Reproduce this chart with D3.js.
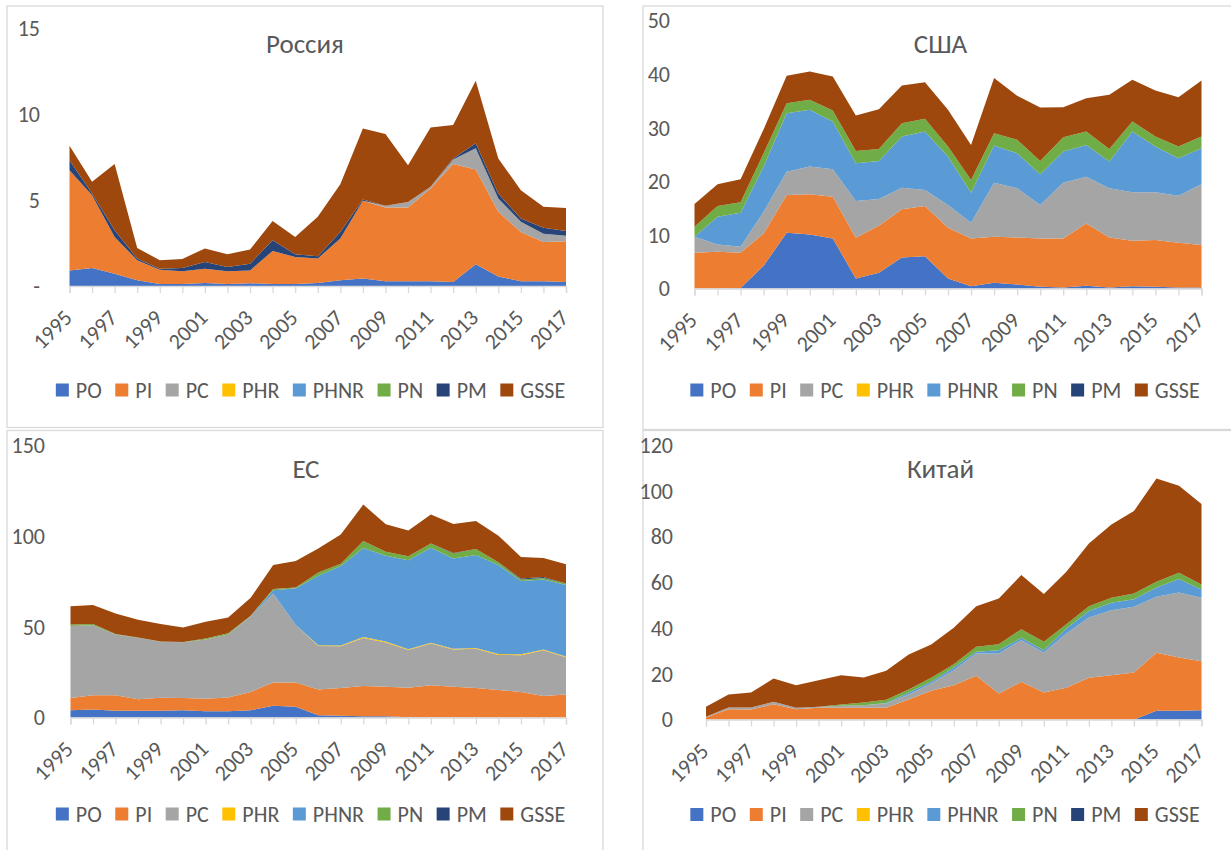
<!DOCTYPE html>
<html><head><meta charset="utf-8">
<script src="https://cdn.jsdelivr.net/npm/d3@7"></script>
<style>
html,body{margin:0;padding:0;background:#fff;}
svg{display:block;}
text{font-family:Calibri,Carlito,Lato,sans-serif;fill:#595959;}
</style></head><body>
<svg id="c" width="1231" height="850"></svg>
<script>
const years = d3.range(1995, 2018);
const yearLabels = ["1995","1997","1999","2001","2003","2005","2007","2009","2011","2013","2015","2017"];
const seriesNames = ["PO","PI","PC","PHR","PHNR","PN","PM","GSSE"];
const seriesColors = ["#4472C4","#ED7D31","#A5A5A5","#FFC000","#5B9BD5","#70AD47","#264478","#9E480E"];
const Z = new Array(23).fill(0);

// Россия
const ruPO   = [0.91,1.05,0.72,0.33,0.12,0.12,0.17,0.12,0.16,0.12,0.12,0.17,0.33,0.43,0.27,0.27,0.27,0.23,1.26,0.56,0.27,0.27,0.23];
const ruPI   = [5.84,4.24,2.14,1.17,0.83,0.74,0.84,0.74,0.75,1.92,1.57,1.43,2.43,4.53,4.30,4.30,5.41,6.87,5.53,3.76,2.88,2.30,2.38];
const ruPC   = [0,0,0,0,0,0,0,0,0,0,0,0,0,0,0.10,0.33,0.10,0.27,1.23,0.78,0.59,0.48,0.31];
const ruPHR  = Z;
const ruPHNR = Z;
const ruPN   = Z;
const ruPM   = [0.58,0.10,0.39,0.10,0.06,0.19,0.39,0.25,0.39,0.63,0.16,0.13,0.39,0.08,0,0,0,0.06,0.29,0.29,0.19,0.34,0.29];
const ruGSSE = [0.84,0.68,3.85,0.62,0.49,0.53,0.78,0.74,0.82,1.12,1.01,2.30,2.78,4.14,4.18,2.14,3.46,1.95,3.65,2.04,1.65,1.22,1.34];

// США
const usPO   = [0,0,0.1,4.24,10.4,10.09,9.35,1.87,2.93,5.79,6.04,1.87,0.44,1.06,0.75,0.31,0.19,0.5,0.19,0.44,0.31,0.19,0.19];
const usPI   = [6.67,6.85,6.57,6.04,7.05,7.48,7.78,7.6,8.78,8.98,9.35,9.47,8.91,8.6,8.78,9.04,9.16,11.65,9.34,8.47,8.72,8.35,7.91];
const usPC   = [2.99,1.37,1.12,4.05,4.35,5.17,5.11,6.85,4.99,4.05,2.99,4.24,2.92,10.09,9.16,6.23,10.4,8.72,9.16,9.03,8.91,8.78,11.34];
const usPHR  = Z;
const usPHNR = [0,5.18,6.35,8.41,10.9,10.59,8.91,7.04,7.1,9.53,10.9,9.03,5.61,6.92,6.54,5.73,5.8,5.92,4.99,11.34,8.54,6.98,6.73];
const usPN   = [1.87,1.99,1.93,2.49,1.88,1.87,2.06,2.31,2.24,2.49,2.37,1.87,2.37,2.3,2.5,2.49,2.67,2.49,2.36,1.87,1.87,2.18,2.18];
const usPM   = Z;
const usGSSE = [4.24,4.05,4.3,4.5,5.11,5.3,6.35,6.6,7.42,7.04,6.85,6.85,6.54,10.28,8.22,9.97,5.61,6.23,10.1,7.79,8.6,9.22,10.47];

// ЕС
const euPO   = [4.0,4.4,3.7,3.7,3.7,4.0,3.5,3.5,4.0,6.4,5.9,1.3,0.9,0.7,0.7,0.2,0.2,0.1,0,0,0,0,0];
const euPI   = [6.8,7.9,8.6,6.4,7.2,6.8,6.8,7.5,10.1,12.9,13.4,14.1,15.4,16.7,16.2,16.2,17.6,16.8,16.3,15.1,14.1,11.9,12.7];
const euPC   = [39.5,38.5,33.4,33.8,30.8,30.6,32.7,34.7,41.3,49.0,31.6,23.9,22.9,26.4,24.4,20.7,22.9,20.5,21.5,19.3,20.2,25.1,20.4];
const euPHR  = [0,0,0,0,0,0,0,0,0,0,0,0.5,0.5,0.5,0.5,0.5,0.5,0.5,0.5,0.5,0.5,0.5,0.5];
const euPHNR = [0,0,0,0,0,0,0,0,0.3,1.8,20.2,38.2,43.7,49.0,47.2,49.0,52.2,49.6,51.1,49.0,40.4,38.4,39.3];
const euPN   = [0.9,0.6,0.2,0.2,0.2,0.2,0.5,0.7,0.3,0.6,0.4,1.8,1.3,3.9,2.2,2.2,2.4,2.8,3.3,1.5,0.7,0.9,0.9];
const euPM   = [0,0,0,0,0,0,0,0,0,0,0,0,0,0,0,0,0,0.2,0,0,0.55,0.55,0];
const euGSSE = [10.1,10.5,11.4,9.7,9.5,7.9,9.2,8.6,9.9,13.2,14.7,13.2,16.0,20.0,15.2,14.1,16.0,16.0,15.4,14.7,11.9,10.5,10.6];

// Китай
const cnPO   = [0,0,0,0,0,0,0,0,0,0,0,0,0,0,0,0,0,0,0,0,3.79,3.79,4.08];
const cnPI   = [0.87,4.52,4.37,6.71,4.52,5.1,5.1,5.1,5.1,8.75,12.54,15.01,19.1,11.37,16.47,11.8,13.85,18.22,19.39,20.55,25.36,23.32,21.43];
const cnPC   = [0.3,0.73,0.88,1.02,0.58,0.44,0.88,1.17,1.9,2.18,3.2,6.56,9.76,17.49,18.22,17.5,23.76,26.39,28.42,28.72,24.49,28.43,27.7];
const cnPHR  = Z;
const cnPHNR = [0,0,0,0,0,0,0,0,0.2,0.87,0.73,1.17,0.73,1.46,1.02,1.02,2.19,2.77,3.21,3.35,4.09,5.83,3.64];
const cnPN   = [0,0,0,0,0,0,0.58,1.16,1.45,1.32,1.75,1.46,2.19,2.62,3.79,3.65,1.89,2.18,2.19,2.48,2.47,2.77,2.19];
const cnPM   = Z;
const cnGSSE = [4.37,5.68,6.55,10.2,9.91,11.66,12.83,10.94,12.69,15.31,14.58,15.89,17.78,19.98,23.62,20.84,22.89,27.41,32.07,36.01,45.19,38.05,35.13];

const titles = ["Россия","США","ЕС","Китай"];
const ruTicks = [0,5,10,15];
const usTicks = [0,10,20,30,40,50];
const euTicks = [0,50,100,150];
const cnTicks = [0,20,40,60,80,100,120];

const panelData = [
  [ruPO,ruPI,ruPC,ruPHR,ruPHNR,ruPN,ruPM,ruGSSE],
  [usPO,usPI,usPC,usPHR,usPHNR,usPN,usPM,usGSSE],
  [euPO,euPI,euPC,euPHR,euPHNR,euPN,euPM,euGSSE],
  [cnPO,cnPI,cnPC,cnPHR,cnPHNR,cnPN,cnPM,cnGSSE]
];
const panelTicks = [ruTicks, usTicks, euTicks, cnTicks];

// layout
const layout = [
  {box:[7,6,603,427.5], x0:69.5, x1:566, y0:286, yTop:28.5, ylab:40, tx:305, ty:53, lc:310.5, ly:390, zero:"-"},
  {box:[643,6,1245,429.5], x0:694.5, x1:1201.5, y0:288.5, yTop:20.5, ylab:670, tx:940.5, ty:53, lc:945, ly:390, zero:"0"},
  {box:[7,430.5,603,900], x0:70.5, x1:566, y0:717.5, yTop:445, ylab:45, tx:306, ty:478, lc:310.5, ly:814, zero:"0"},
  {box:[643,430.5,1245,900], x0:706, x1:1201.5, y0:719.5, yTop:445, ylab:673, tx:940.5, ty:478, lc:945, ly:814.5, zero:"0"}
];

const FS = 22;
const svg = d3.select("#c");

panelData.forEach((arrs, pi) => {
  const L = layout[pi];
  const ticks = panelTicks[pi];
  const g = svg.append("g");
  const [bx0,by0,bx1,by1] = L.box;
  g.append("rect").attr("x",bx0).attr("y",by0).attr("width",bx1-bx0).attr("height",by1-by0)
    .attr("fill","#fff").attr("stroke","#d9d9d9").attr("stroke-width",1.3);

  const x = d3.scaleLinear().domain([1995,2017]).range([L.x0,L.x1]);
  const y = d3.scaleLinear().domain([0, d3.max(ticks)]).range([L.y0,L.yTop]);

  const rows = years.map((yr,i) => {
    const o = {year: yr};
    seriesNames.forEach((s,k) => o[s] = arrs[k][i]);
    return o;
  });
  const stacked = d3.stack().keys(seriesNames)(rows);
  const area = d3.area().x(d => x(d.data.year)).y0(d => y(d[0])).y1(d => y(d[1]));
  g.selectAll("path.a").data(stacked).join("path").attr("class","a")
    .attr("d", area).attr("fill",(d,i)=>seriesColors[i]);

  // y labels
  g.selectAll("text.yl").data(ticks).join("text").attr("class","yl")
    .attr("x", L.ylab).attr("y", d => y(d)).attr("dy","0.36em")
    .attr("text-anchor","end").style("font-size",FS+"px")
    .text(d => d===0 ? L.zero : d);

  // x axis
  const xAxis = d3.axisBottom(x).tickValues(years).tickSize(7).tickFormat("");
  const ax = g.append("g").attr("transform",`translate(0,${L.y0})`).call(xAxis);
  ax.select(".domain").attr("stroke","#d9d9d9").attr("stroke-width",1.3);
  ax.selectAll(".tick line").attr("stroke","#d9d9d9").attr("stroke-width",1.3);

  g.selectAll("text.xl").data(yearLabels).join("text").attr("class","xl")
    .attr("transform", d => `translate(${x(+d)+4},${L.y0+33}) rotate(-45)`)
    .attr("text-anchor","end").style("font-size",FS+"px").text(d => d);

  // title
  g.append("text").attr("x",L.tx).attr("y",L.ty).attr("text-anchor","middle")
    .style("font-size","27px").text(titles[pi]);

  // legend
  const lg = g.append("g");
  let cx = 0;
  seriesNames.forEach((s,k) => {
    const it = lg.append("g").attr("transform",`translate(${cx},0)`);
    it.append("rect").attr("x",0).attr("y",-6.5).attr("width",13).attr("height",13).attr("fill",seriesColors[k]);
    const t = it.append("text").attr("x",20).attr("y",0).attr("dy","0.36em").style("font-size",FS+"px").text(s);
    const w = t.node().getComputedTextLength();
    cx += 20 + w + (k < seriesNames.length-1 ? 13.5 : 0);
  });
  lg.attr("transform",`translate(${L.lc - cx/2},${L.ly})`);
});
</script>
</body></html>
